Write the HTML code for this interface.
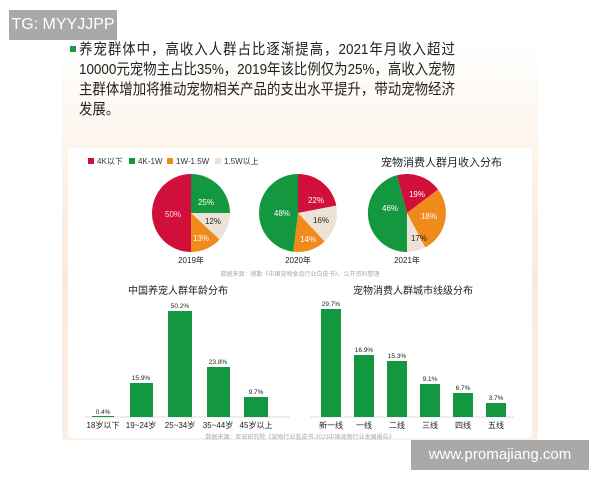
<!DOCTYPE html>
<html><head><meta charset="utf-8"><style>
body{margin:0;width:600px;height:480px;background:#fff;overflow:hidden;position:relative;font-family:"Liberation Sans","Noto Sans CJK SC",sans-serif}
.bg{position:absolute;left:62px;top:40px;width:476px;height:400px;background:linear-gradient(180deg,#fff 0%,#fdf3ea 30%,#fbe9dc 60%,#fcefe6 100%)}
.card{position:absolute;left:68px;top:148px;width:464px;height:290px;background:#fff;border-radius:4px}
.line{position:absolute;left:79px;width:420px;font-size:15px;color:#222;white-space:nowrap;text-align:justify;text-align-last:justify;line-height:20px;transform:scaleX(0.895);transform-origin:0 0}
.box{position:absolute;background:#a9a9a9;color:#fff;font-size:16px}
</style></head><body>
<div class="bg"></div>
<div class="card"></div>
<div style="position:absolute;left:70px;top:46px;width:6px;height:6px;background:#1a9a45"></div>
<div class="line" style="top:40px">养宠群体中，高收入人群占比逐渐提高，2021年月收入超过</div>
<div class="line" style="top:60px">10000元宠物主占比35%，2019年该比例仅为25%，高收入宠物</div>
<div class="line" style="top:80px">主群体增加将推动宠物相关产品的支出水平提升，带动宠物经济</div>
<div class="line" style="top:100px;text-align-last:left">发展。</div>
<svg width="600" height="480" style="position:absolute;left:0;top:0" font-family="Liberation Sans,Noto Sans CJK SC,sans-serif">
<g font-size="8" fill="#333">
<rect x="88" y="158" width="6" height="6" fill="#d0103a"/><text x="97" y="164">4K以下</text>
<rect x="129" y="158" width="6" height="6" fill="#13973f"/><text x="138" y="164">4K-1W</text>
<rect x="167" y="158" width="6" height="6" fill="#f08a1a"/><text x="176" y="164">1W-1.5W</text>
<rect x="215" y="158" width="6" height="6" fill="#ece3d6"/><text x="224" y="164">1.5W以上</text>
</g>
<text x="502" y="166" font-size="11" text-anchor="end" fill="#222">宠物消费人群月收入分布</text>
<g transform="translate(191,213)">
<path d="M0,0 L0,39 A39,39 0 0 1 0,-39 Z" fill="#d0103a"/>
<path d="M0,0 L0,-39 A39,39 0 0 1 39,0 Z" fill="#13973f"/>
<path d="M0,0 L39,0 A39,39 0 0 1 28.6,26.5 Z" fill="#ece3d6"/>
<path d="M0,0 L28.6,26.5 A39,39 0 0 1 0,39 Z" fill="#f08a1a"/>
<g font-size="8" text-anchor="middle"><text x="-18" y="4" fill="#fde">50%</text><text x="15" y="-8" fill="#fff">25%</text><text x="22" y="11" fill="#222">12%</text><text x="10" y="28" fill="#fff">13%</text></g>
<text x="0" y="50" font-size="8" text-anchor="middle" fill="#222">2019年</text>
</g>
<g transform="translate(298,213)">
<path d="M0,0 L0,-39 A39,39 0 0 1 38.3,-7.4 Z" fill="#d0103a"/>
<path d="M0,0 L38.3,-7.4 A39,39 0 0 1 26.6,28.5 Z" fill="#ece3d6"/>
<path d="M0,0 L26.6,28.5 A39,39 0 0 1 -4.8,38.7 Z" fill="#f08a1a"/>
<path d="M0,0 L-4.8,38.7 A39,39 0 0 1 0,-39 Z" fill="#13973f"/>
<g font-size="8" text-anchor="middle"><text x="18" y="-10" fill="#fff">22%</text><text x="23" y="10" fill="#222">16%</text><text x="10" y="29" fill="#fff">14%</text><text x="-16" y="3" fill="#fff">48%</text></g>
<text x="0" y="50" font-size="8" text-anchor="middle" fill="#222">2020年</text>
</g>
<g transform="translate(407,213)">
<path d="M0,0 L-10.1,-37.7 A39,39 0 0 1 31.1,-23.5 Z" fill="#d0103a"/>
<path d="M0,0 L31.1,-23.5 A39,39 0 0 1 18.3,34.4 Z" fill="#f08a1a"/>
<path d="M0,0 L18.3,34.4 A39,39 0 0 1 0,39 Z" fill="#ece3d6"/>
<path d="M0,0 L0,39 A39,39 0 0 1 -10.1,-37.7 Z" fill="#13973f"/>
<g font-size="8" text-anchor="middle"><text x="10" y="-16" fill="#fff">19%</text><text x="22" y="6" fill="#fff">18%</text><text x="12" y="28" fill="#222">17%</text><text x="-17" y="-2" fill="#fff">46%</text></g>
<text x="0" y="50" font-size="8" text-anchor="middle" fill="#222">2021年</text>
</g>
<text x="300" y="276" font-size="6" text-anchor="middle" fill="#aaa">数据来源：德勤《中国宠物食品行业白皮书》、公开资料整理</text>
<text x="178" y="294" font-size="10" text-anchor="middle" fill="#222">中国养宠人群年龄分布</text>
<text x="413" y="294" font-size="10" text-anchor="middle" fill="#222">宠物消费人群城市线级分布</text>
<line x1="84" y1="417" x2="290" y2="417" stroke="#ddd"/>
<line x1="310" y1="417" x2="514" y2="417" stroke="#ddd"/>
<g fill="#13973f">
<rect x="92" y="416" width="22" height="1"/>
<rect x="130" y="383" width="23" height="34"/>
<rect x="168" y="311" width="24" height="106"/>
<rect x="207" y="367" width="23" height="50"/>
<rect x="244" y="397" width="24" height="20"/>
<rect x="321" y="309" width="20" height="108"/>
<rect x="354" y="355" width="20" height="62"/>
<rect x="387" y="361" width="20" height="56"/>
<rect x="420" y="384" width="20" height="33"/>
<rect x="453" y="393" width="20" height="24"/>
<rect x="486" y="403" width="20" height="14"/>
</g>
<g font-size="6.5" text-anchor="middle" fill="#222">
<text x="103" y="414">0.4%</text><text x="141" y="380">15.9%</text><text x="180" y="308">50.2%</text><text x="218" y="364">23.8%</text><text x="256" y="394">9.7%</text>
<text x="331" y="306">29.7%</text><text x="364" y="352">16.9%</text><text x="397" y="358">15.3%</text><text x="430" y="381">9.1%</text><text x="463" y="390">6.7%</text><text x="496" y="400">3.7%</text>
</g>
<g font-size="8" text-anchor="middle" fill="#222">
<text x="103" y="428">18岁以下</text><text x="141" y="428">19~24岁</text><text x="180" y="428">25~34岁</text><text x="218" y="428">35~44岁</text><text x="256" y="428">45岁以上</text>
<text x="331" y="428">新一线</text><text x="364" y="428">一线</text><text x="397" y="428">二线</text><text x="430" y="428">三线</text><text x="463" y="428">四线</text><text x="496" y="428">五线</text>
</g>
<text x="300" y="439" font-size="6" text-anchor="middle" fill="#aaa">数据来源：亚宠研究院《宠物行业蓝皮书-2023中国宠物行业发展报告》</text>
</svg>
<div class="box" style="left:9px;top:10px;width:108px;height:30px;line-height:30px;text-align:center">TG: MYYJJPP</div>
<div class="box" style="left:411px;top:440px;width:178px;height:30px;line-height:30px;text-align:center;font-size:15px">www.promajiang.com</div>
</body></html>
